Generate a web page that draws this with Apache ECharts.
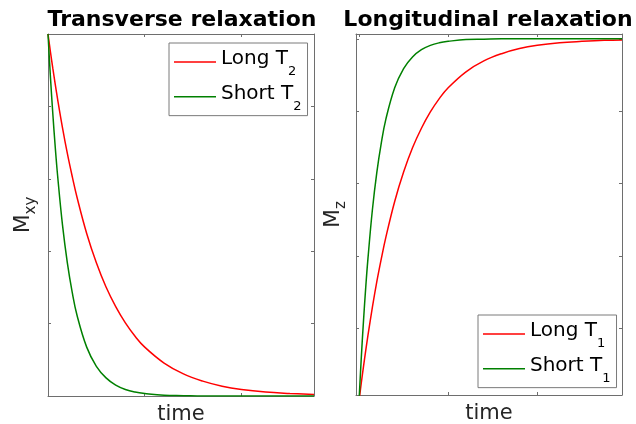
<!DOCTYPE html>
<html>
<head>
<meta charset="utf-8">
<script src="https://cdn.jsdelivr.net/npm/echarts@6/dist/echarts.min.js"></script>
<style>
  html, body { margin: 0; padding: 0; background: #fff; }
  #chart { width: 636px; height: 424px; }
</style>
</head>
<body>
<div id="chart"></div>
<script>
// Transverse (T2) decay samples
const tDecay = [0, 0.025, 0.05, 0.075, 0.1, 0.15, 0.2, 0.25, 0.3, 0.4, 0.5, 0.6, 0.7, 0.8, 0.9, 1.0, 1.2, 1.4, 1.6, 1.8, 2.0, 2.25, 2.5, 2.75];
const longT2 = [1.000, 0.951, 0.905, 0.861, 0.819, 0.741, 0.670, 0.607, 0.549, 0.449, 0.368, 0.301, 0.247, 0.202, 0.165, 0.135, 0.091, 0.061, 0.041, 0.027, 0.018, 0.011, 0.007, 0.004];
const shortT2 = [1.000, 0.882, 0.779, 0.687, 0.607, 0.472, 0.368, 0.287, 0.223, 0.135, 0.082, 0.050, 0.030, 0.018, 0.011, 0.007, 0.002, 0.001, 0.000, 0.000, 0.000, 0.000, 0.000, 0.000];

// Longitudinal (T1) recovery samples
const tRecovery = [0, 0.025, 0.05, 0.075, 0.1, 0.15, 0.2, 0.25, 0.3, 0.4, 0.5, 0.6, 0.7, 0.8, 0.9, 1.0, 1.2, 1.4, 1.6, 1.8, 2.0, 2.25, 2.5, 2.75, 2.95];
const longT1 = [0.000, 0.049, 0.095, 0.139, 0.181, 0.259, 0.330, 0.393, 0.451, 0.551, 0.632, 0.699, 0.753, 0.798, 0.835, 0.865, 0.909, 0.939, 0.959, 0.973, 0.982, 0.989, 0.993, 0.996, 0.997];
const shortT1 = [0.000, 0.118, 0.221, 0.313, 0.393, 0.528, 0.632, 0.713, 0.777, 0.865, 0.918, 0.950, 0.970, 0.982, 0.989, 0.993, 0.998, 0.999, 1.000, 1.000, 1.000, 1.000, 1.000, 1.000, 1.000];

// Tick positions (no tick labels are drawn)
const decayXTicks = [1, 2];
const decayYTicks = [0.2, 0.4, 0.6, 0.8];
const recoveryXTicks = [0, 1, 2];
const recoveryYTicks = [0.2, 0.4, 0.6, 0.8, 1.0];

const FONT = 'DejaVu Sans';
const AXIS_GRAY = '#6e6e6e';
const RED = '#ff0000';
const GREEN = '#008000';

const pairs = (xs, ys) => xs.map((x, i) => [x, ys[i]]);

// Rich-text styles for a base letter followed by a lowered subscript
const subRich = (big, small, drop, color) => ({
  m: { fontSize: big, lineHeight: big, verticalAlign: 'top', fontFamily: FONT, color: color },
  s: { fontSize: small, lineHeight: small, verticalAlign: 'top', padding: [drop, 0, 0, 0], fontFamily: FONT, color: color }
});

function boxAxis(gridIndex, position, min, max, ticks, extra) {
  return Object.assign({
    type: 'value',
    gridIndex: gridIndex,
    position: position,
    min: min,
    max: max,
    axisLine: { show: true, onZero: false, lineStyle: { color: AXIS_GRAY, width: 1 } },
    axisTick: { show: true, inside: true, length: 3, customValues: ticks, lineStyle: { color: AXIS_GRAY, width: 1 } },
    axisLabel: { show: false },
    splitLine: { show: false }
  }, extra || {});
}

const chart = echarts.init(document.getElementById('chart'), null, { renderer: 'canvas' });

const legendRich = {
  m: { fontSize: 20, lineHeight: 32.7, verticalAlign: 'top', padding: [3.15, 0, 0, 0], fontFamily: FONT, color: '#000' },
  s: { fontSize: 13, lineHeight: 13, verticalAlign: 'top', padding: [19.7, 0, 0, 0], fontFamily: FONT, color: '#000' }
};
const legendFormatter = (name) => {
  const parts = name.split('_');
  return '{m|' + parts[0] + '}{s|' + parts[1] + '}';
};
const legendBase = {
  orient: 'vertical',
  icon: 'rect', itemWidth: 42, itemHeight: 1.5, itemGap: 2,
  padding: [2.65, 6, 2.6, 5],
  borderColor: '#7a7a7a', borderWidth: 1, backgroundColor: '#fff',
  textStyle: { fontSize: 20, fontFamily: FONT, color: '#000', rich: legendRich },
  formatter: legendFormatter,
  selectedMode: false
};

const timeName = {
  name: 'time', nameLocation: 'middle', nameGap: 8,
  nameTextStyle: { fontFamily: FONT, fontSize: 21, color: '#262626', verticalAlign: 'top' }
};

chart.setOption({
  animation: false,
  backgroundColor: '#fff',
  title: [
    { text: 'Transverse relaxation', left: 182, top: 9.5, textAlign: 'center', padding: 0,
      textStyle: { fontFamily: FONT, fontWeight: 'bold', fontSize: 22, color: '#000' } },
    { text: 'Longitudinal relaxation', left: 488, top: 9.5, textAlign: 'center', padding: 0,
      textStyle: { fontFamily: FONT, fontWeight: 'bold', fontSize: 22, color: '#000' } }
  ],
  grid: [
    { left: 48, top: 34, width: 266, height: 362, containLabel: false, outerBoundsMode: 'none' },
    { left: 356, top: 34, width: 266, height: 361, containLabel: false, outerBoundsMode: 'none' }
  ],
  xAxis: [
    boxAxis(0, 'bottom', 0, 2.75, decayXTicks, timeName),
    boxAxis(0, 'top', 0, 2.75, decayXTicks),
    boxAxis(1, 'bottom', -0.034, 2.95, recoveryXTicks, timeName),
    boxAxis(1, 'top', -0.034, 2.95, recoveryXTicks)
  ],
  yAxis: [
    boxAxis(0, 'left', 0, 1, decayYTicks, {
      name: '{m|M}{s|xy}', nameLocation: 'middle', nameGap: 14, nameRotate: 90,
      nameTextStyle: { rich: subRich(22, 15, 12, '#262626') }
    }),
    boxAxis(0, 'right', 0, 1, decayYTicks),
    boxAxis(1, 'left', 0.0166, 1.0133, recoveryYTicks, {
      name: '{m|M}{s|z}', nameLocation: 'middle', nameGap: 12, nameRotate: 90,
      nameTextStyle: { rich: subRich(22, 15, 12, '#262626') }
    }),
    boxAxis(1, 'right', 0.0166, 1.0133, recoveryYTicks)
  ],
  legend: [
    Object.assign({ data: ['Long T_2', 'Short T_2'], left: 169, top: 43 }, legendBase),
    Object.assign({ data: ['Long T_1', 'Short T_1'], left: 478, top: 315 }, legendBase)
  ],
  series: [
    { name: 'Long T_2', type: 'line', xAxisIndex: 0, yAxisIndex: 0, data: pairs(tDecay, longT2),
      showSymbol: false, symbol: 'none', smooth: 0.4,
      itemStyle: { color: RED }, lineStyle: { color: RED, width: 1.5 } },
    { name: 'Short T_2', type: 'line', xAxisIndex: 0, yAxisIndex: 0, data: pairs(tDecay, shortT2),
      showSymbol: false, symbol: 'none', smooth: 0.4,
      itemStyle: { color: GREEN }, lineStyle: { color: GREEN, width: 1.5 } },
    { name: 'Long T_1', type: 'line', xAxisIndex: 2, yAxisIndex: 2, data: pairs(tRecovery, longT1),
      showSymbol: false, symbol: 'none', smooth: 0.4, clip: true,
      itemStyle: { color: RED }, lineStyle: { color: RED, width: 1.5 } },
    { name: 'Short T_1', type: 'line', xAxisIndex: 2, yAxisIndex: 2, data: pairs(tRecovery, shortT1),
      showSymbol: false, symbol: 'none', smooth: 0.4, clip: true,
      itemStyle: { color: GREEN }, lineStyle: { color: GREEN, width: 1.5 } }
  ]
});
</script>
</body>
</html>
